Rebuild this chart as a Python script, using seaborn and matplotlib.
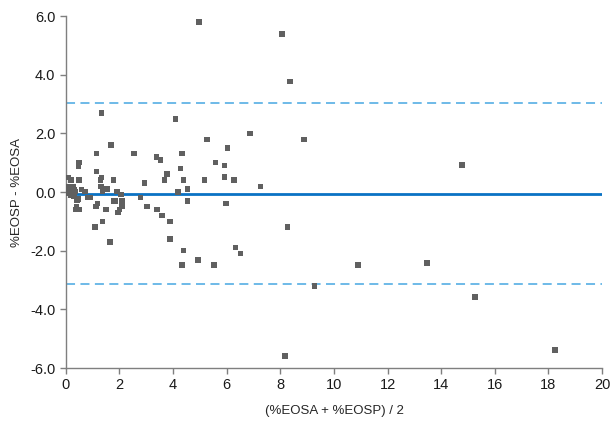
import numpy as np
import pandas as pd
import matplotlib
matplotlib.use("Agg")
import matplotlib.pyplot as plt
import seaborn as sns

# mean of the two methods (x) and their difference (y)
avg = [0.02, 0.05, 0.08, 0.10, 0.12, 0.15, 0.18, 0.20, 0.22, 0.09, 0.19, 0.49,
       0.49, 0.46, 0.31, 0.58, 0.71, 0.34, 0.83, 0.92, 0.30, 0.42, 0.37, 0.49,
       0.40, 0.47, 0.28,
       1.08, 1.14, 1.14, 1.34, 1.29, 1.31, 1.53, 1.37, 1.90, 1.78, 1.68, 1.34,
       1.17, 1.12, 1.49, 1.77, 1.84, 2.09, 2.06, 2.10, 1.99, 1.94, 1.37, 1.64,
       2.54, 2.94, 2.79, 3.02, 3.38, 3.53, 3.68, 3.77, 3.40, 3.58, 3.88, 3.88,
       4.10, 4.33, 4.28, 4.38, 4.18, 4.53, 4.53, 4.38, 4.33,
       4.96, 4.93, 5.26, 5.17, 5.57, 5.52, 5.92, 5.92, 6.02, 5.97, 6.27, 6.32,
       6.52, 6.87, 7.26, 8.06, 8.36, 8.27, 8.17, 8.88, 9.27, 10.90, 13.47,
       14.78, 15.26, 18.25]
diff = [0.00, 0.10, 0.20, -0.05, 0.05, 0.15, -0.10, 0.10, 0.00, 0.49, 0.41, 0.41,
        1.00, 0.89, 0.09, 0.09, 0.01, 0.01, -0.18, -0.19, -0.16, -0.28, -0.59, -0.59,
        -0.50, -0.23, 0.20,
        -1.19, 1.32, 0.70, 0.50, 0.41, 0.20, 0.10, 0.01, 0.01, 0.41, 1.60, 2.69,
        -0.39, -0.50, -0.60, -0.30, -0.30, -0.30, -0.09, -0.48, -0.59, -0.70, -1.00, -1.70,
        1.32, 0.31, -0.19, -0.50, 1.20, 1.10, 0.41, 0.62, -0.60, -0.80, -1.00, -1.60,
        2.49, 1.32, 0.81, 0.41, 0.00, 0.10, -0.30, -2.00, -2.49,
        5.80, -2.31, 1.80, 0.41, 1.00, -2.49, 0.91, 0.51, 1.50, -0.40, 0.41, -1.90,
        -2.10, 2.00, 0.20, 5.39, 3.78, -1.19, -5.59, 1.80, -3.20, -2.49, -2.42,
        0.92, -3.58, -5.39]

bias = -0.05
loa_upper = 3.05
loa_lower = -3.15

df = pd.DataFrame({"avg": avg, "diff": diff})

sns.set_style("white")
plt.rcParams["font.family"] = ["Liberation Sans", "DejaVu Sans"]

fig = plt.figure(figsize=(6.1, 4.24), dpi=100)
ax = fig.add_axes([0.108, 0.132, 0.879, 0.830])

ax.axhline(loa_upper, color="#62b4e6", lw=1.3, ls=(0, (5, 3)), zorder=1)
ax.axhline(loa_lower, color="#62b4e6", lw=1.3, ls=(0, (5, 3)), zorder=1)
ax.axhline(bias, color="#0a72c4", lw=2.0, zorder=2)

sns.scatterplot(data=df, x="avg", y="diff", marker="s", s=15, color="#606060",
                edgecolor="none", ax=ax, zorder=3)

ax.set_xlim(0, 20)
ax.set_ylim(-6, 6)
ax.set_xticks(np.arange(0, 21, 2))
ax.set_yticks(np.arange(-6, 7, 2))
ax.set_yticklabels([f"{v:.1f}" for v in np.arange(-6, 7, 2)])

ax.set_xlabel("(%EOSA + %EOSP) / 2", fontsize=9.5, labelpad=9)
ax.set_ylabel("%EOSP - %EOSA", fontsize=9.5, labelpad=5)

for side in ["top", "right"]:
    ax.spines[side].set_visible(False)
for side in ["left", "bottom"]:
    ax.spines[side].set_color("#7f7f7f")
    ax.spines[side].set_linewidth(1.0)
ax.tick_params(axis="both", which="major", direction="out", length=4,
               width=1.0, color="#7f7f7f", labelsize=10.5, labelcolor="#1a1a1a",
               left=True, bottom=True)

fig.savefig("out.png", dpi=100)
